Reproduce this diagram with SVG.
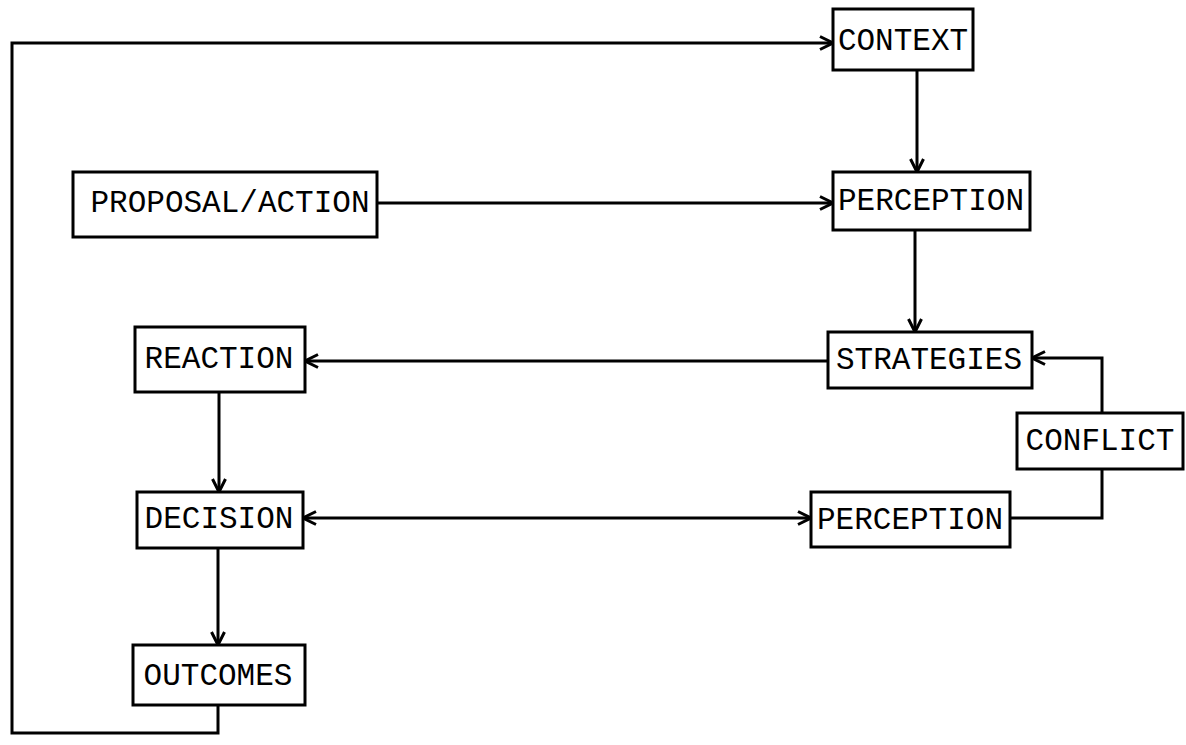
<svg xmlns="http://www.w3.org/2000/svg" width="1186" height="745" viewBox="0 0 1186 745">
<style>
.box{fill:#fff;stroke:#000;stroke-width:3}
.lbl{font-family:"Liberation Mono","Courier New",monospace;font-size:31px;fill:#000;text-anchor:middle;dominant-baseline:central}
.ln{fill:none;stroke:#000;stroke-width:3}
.arr{marker-end:url(#ah)}
</style>
<defs>
<marker id="ah" viewBox="0 0 16 16" markerWidth="16" markerHeight="16" refX="14" refY="8" orient="auto-start-reverse" markerUnits="userSpaceOnUse">
<path d="M1,1.5 L14,8 L1,14.5" fill="none" stroke="#000" stroke-width="3"/>
</marker>
</defs>
<rect width="1186" height="745" fill="#fff"/>
<g id="connectors">
<polyline class="ln arr" points="218,705 218,733 12,733 12,43 833,43"/>
<line class="ln arr" x1="917" y1="70" x2="917" y2="172"/>
<line class="ln arr" x1="377" y1="203" x2="833" y2="203"/>
<line class="ln arr" x1="915" y1="230" x2="915" y2="332"/>
<line class="ln arr" x1="828" y1="361" x2="305" y2="361"/>
<line class="ln arr" x1="219" y1="392" x2="219" y2="492"/>
<line class="ln arr" x1="303" y1="518" x2="811" y2="518" marker-start="url(#ah)"/>
<polyline class="ln" points="1010,518 1102,518 1102,469"/>
<polyline class="ln arr" points="1102,413 1102,358 1032,358"/>
<line class="ln arr" x1="218" y1="548" x2="218" y2="645"/>
</g>
<g id="context"><rect class="box" x="833" y="9" width="140" height="61"/><text class="lbl" x="903" y="41">CONTEXT</text></g>
<g id="proposal"><rect class="box" x="73" y="172" width="304" height="65"/><text class="lbl" x="230" y="203">PROPOSAL/ACTION</text></g>
<g id="perception1"><rect class="box" x="833" y="172" width="197" height="58"/><text class="lbl" x="931" y="201">PERCEPTION</text></g>
<g id="strategies"><rect class="box" x="828" y="332" width="204" height="56"/><text class="lbl" x="929" y="360">STRATEGIES</text></g>
<g id="reaction"><rect class="box" x="135" y="327" width="170" height="65"/><text class="lbl" x="219" y="359">REACTION</text></g>
<g id="conflict"><rect class="box" x="1017" y="413" width="166" height="56"/><text class="lbl" x="1100" y="441">CONFLICT</text></g>
<g id="decision"><rect class="box" x="137" y="492" width="166" height="56"/><text class="lbl" x="219" y="519">DECISION</text></g>
<g id="perception2"><rect class="box" x="811" y="492" width="199" height="55"/><text class="lbl" x="910" y="520">PERCEPTION</text></g>
<g id="outcomes"><rect class="box" x="133" y="645" width="172" height="60"/><text class="lbl" x="218" y="676">OUTCOMES</text></g>
</svg>
